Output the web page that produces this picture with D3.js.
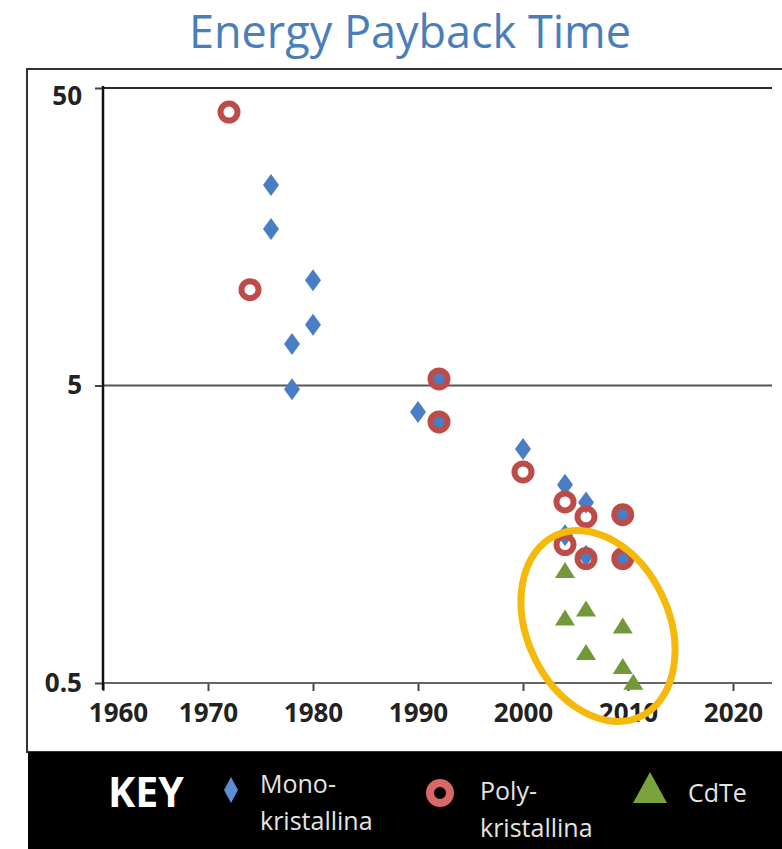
<!DOCTYPE html>
<html>
<head>
<meta charset="utf-8">
<script src="https://cdn.jsdelivr.net/npm/d3@7"></script>
<style>
  body { margin: 0; background: #fff; }
  svg { display: block; font-family: "Open Sans", sans-serif; }
</style>
</head>
<body>
<svg id="chart" width="782" height="849"></svg>
<script>
// data (years, energy payback time in years)
let monoYears  = [1976, 1976, 1978, 1978, 1980, 1980, 1990, 1992, 1992, 2000, 2004, 2004, 2006, 2006, 2009.5, 2009.5];
let monoValues = [23.6, 16.8, 6.9, 4.86, 11.3, 8.0, 4.07, 5.26, 3.77, 3.06, 2.32, 1.57, 2.02, 1.34, 1.84, 1.31];

let polyYears  = [1972, 1974, 1992, 1992, 2000, 2004, 2004, 2006, 2006, 2009.5, 2009.5];
let polyValues = [41.5, 10.5, 5.26, 3.77, 2.56, 2.03, 1.46, 1.81, 1.31, 1.84, 1.31];

let cdteYears  = [2004, 2004, 2006, 2006, 2009.5, 2009.5, 2010.5];
let cdteValues = [1.2, 0.83, 0.89, 0.635, 0.78, 0.57, 0.505];

let xTicks = [1960, 1970, 1980, 1990, 2000, 2010, 2020];
let yTicks = [0.5, 5, 50];

let svg = d3.select("#chart");

let plotLeft = 103, plotRight = 772, plotTop = 88, plotBottom = 683;

let x = d3.scaleLinear().domain([1960, 2020]).range([plotLeft, 733]);
let y = d3.scaleLog().domain([0.5, 50]).range([plotBottom, plotTop]);

// title
svg.append("text")
  .attr("x", 410)
  .attr("y", 48)
  .attr("text-anchor", "middle")
  .style("font-size", "45px")
  .style("fill", "#4a7ebb")
  .text("Energy Payback Time");

// outer frame
svg.append("rect")
  .attr("x", 27)
  .attr("y", 69)
  .attr("width", 800)
  .attr("height", 683)
  .style("fill", "none")
  .style("stroke", "#333")
  .style("stroke-width", 2);

// horizontal lines at 5 and 50
svg.selectAll(".grid")
  .data([5, 50])
  .enter()
  .append("line")
  .attr("class", "grid")
  .attr("x1", plotLeft)
  .attr("x2", plotRight)
  .attr("y1", d => y(d))
  .attr("y2", d => y(d))
  .style("stroke", d => d === 50 ? "#2a2a2a" : "#555")
  .style("stroke-width", 2);

// x axis
let xAxis = svg.append("g")
  .attr("transform", "translate(0," + plotBottom + ")")
  .call(d3.axisBottom(x).tickValues(xTicks).tickFormat(d3.format("d")).tickSize(8).tickPadding(13));
xAxis.attr("font-family", null);
xAxis.select(".domain").remove();
xAxis.selectAll(".tick line").style("stroke", "#444").style("stroke-width", 2);
xAxis.selectAll(".tick text")
  .style("font-family", "'Open Sans', sans-serif")
  .style("font-size", "26px")
  .style("font-weight", "bold")
  .style("fill", "#222")
  .attr("dx", d => d === 1960 ? 15 : 0);
xAxis.append("line")
  .attr("x1", plotLeft)
  .attr("x2", plotRight)
  .style("stroke", "#666")
  .style("stroke-width", 2);

// y axis
let yAxis = svg.append("g")
  .attr("transform", "translate(" + plotLeft + ",0)")
  .call(d3.axisLeft(y).tickValues(yTicks).tickFormat(d => d).tickSize(8).tickPadding(13));
yAxis.attr("font-family", null);
yAxis.select(".domain").remove();
yAxis.selectAll(".tick line").style("stroke", "#444").style("stroke-width", 2);
yAxis.selectAll(".tick text")
  .style("font-family", "'Open Sans', sans-serif")
  .style("font-size", "26px")
  .style("font-weight", "bold")
  .style("fill", "#222")
  .attr("dy", d => d === 50 ? "0.62em" : "0.32em");
yAxis.append("line")
  .attr("y1", plotTop - 2)
  .attr("y2", plotBottom + 7)
  .style("stroke", "#111")
  .style("stroke-width", 2.5);

// mono-kristallina: diamonds
let diamond = "M0,-11L8,0L0,11L-8,0Z";
svg.selectAll(".mono")
  .data(monoYears)
  .enter()
  .append("path")
  .attr("class", "mono")
  .attr("d", diamond)
  .attr("transform", (d, i) => "translate(" + x(d) + "," + y(monoValues[i]) + ")")
  .style("fill", "#4a7ec4");

// poly-kristallina: open circles
svg.selectAll(".poly")
  .data(polyYears)
  .enter()
  .append("circle")
  .attr("class", "poly")
  .attr("cx", d => x(d))
  .attr("cy", (d, i) => y(polyValues[i]))
  .attr("r", 8.5)
  .style("fill", "none")
  .style("stroke", "#be4b48")
  .style("stroke-width", 6);

// CdTe: triangles
let triangle = "M0,-8L10,8L-10,8Z";
svg.selectAll(".cdte")
  .data(cdteYears)
  .enter()
  .append("path")
  .attr("class", "cdte")
  .attr("d", triangle)
  .attr("transform", (d, i) => "translate(" + x(d) + "," + y(cdteValues[i]) + ")")
  .style("fill", "#73983a");

// yellow ring round the thin film points
svg.append("ellipse")
  .attr("cx", 0)
  .attr("cy", 0)
  .attr("rx", 71)
  .attr("ry", 100)
  .attr("transform", "translate(598,626) rotate(-25)")
  .style("fill", "none")
  .style("stroke", "#f5b90c")
  .style("stroke-width", 7);

// key band
svg.append("rect")
  .attr("x", 28)
  .attr("y", 752)
  .attr("width", 760)
  .attr("height", 100)
  .style("fill", "#000");

svg.append("text")
  .attr("x", 108)
  .attr("y", 807)
  .style("font-size", "41px")
  .style("font-weight", "bold")
  .style("fill", "#fff")
  .text("KEY");

svg.append("path")
  .attr("d", "M0,-13L7,0L0,13L-7,0Z")
  .attr("transform", "translate(231,790)")
  .style("fill", "#5b8ed6");

svg.append("circle")
  .attr("cx", 440)
  .attr("cy", 793)
  .attr("r", 10)
  .style("fill", "none")
  .style("stroke", "#d86868")
  .style("stroke-width", 8);

svg.append("path")
  .attr("d", "M0,-16L17,15L-17,15Z")
  .attr("transform", "translate(650,788)")
  .style("fill", "#79a33d");

let keyLabels = [
  {x: 260, y: 793, t: "Mono-"},
  {x: 260, y: 830, t: "kristallina"},
  {x: 480, y: 800, t: "Poly-"},
  {x: 480, y: 837, t: "kristallina"},
  {x: 688, y: 802, t: "CdTe"}
];
for (let k = 0; k < keyLabels.length; k++) {
  svg.append("text")
    .attr("x", keyLabels[k].x)
    .attr("y", keyLabels[k].y)
    .style("font-size", "25px")
    .style("fill", "#e4e4e4")
    .text(keyLabels[k].t);
}
</script>
</body>
</html>
